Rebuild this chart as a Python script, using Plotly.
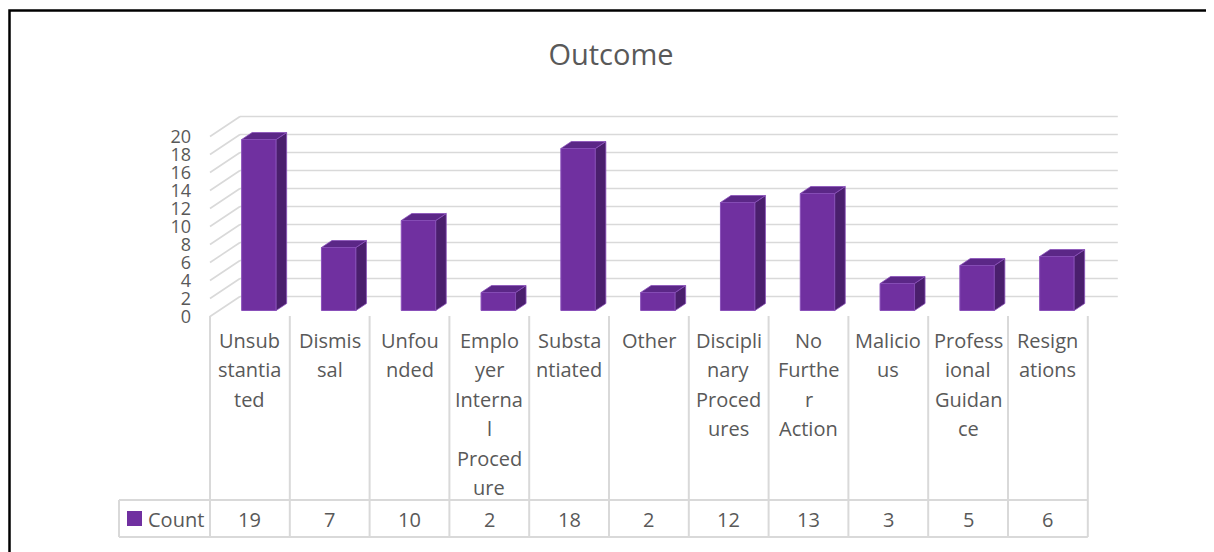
import plotly.graph_objects as go

# ---------------- data ----------------
categories = ["Unsubstantiated", "Dismissal", "Unfounded", "Employer Internal Procedure",
              "Substantiated", "Other", "Disciplinary Procedures", "No Further Action",
              "Malicious", "Professional Guidance", "Resignations"]
label_lines = [["Unsub", "stantia", "ted"], ["Dismis", "sal"], ["Unfou", "nded"],
               ["Emplo", "yer", "Interna", "l", "Proced", "ure"], ["Substa", "ntiated"],
               ["Other"], ["Discipli", "nary", "Proced", "ures"], ["No", "Furthe", "r", "Action"],
               ["Malicio", "us"], ["Profess", "ional", "Guidan", "ce"], ["Resign", "ations"]]
counts = [19, 7, 10, 2, 18, 2, 12, 13, 3, 5, 6]
series_name = "Count"
y_ticks = [0, 2, 4, 6, 8, 10, 12, 14, 16, 18, 20]
title_text = "Outcome"

# ---------------- layout constants (pixels, in the reference frame) ----------------
PAGE_OFF = 8                      # default page body margin
W, H = 1214 - PAGE_OFF, 552 - PAGE_OFF
X0_PX = 210.0      # front-left edge of category axis
CW = 79.8          # pixels per category
Y0_PX = 316.5      # pixel of value 0 on front plane
PPU = 9.0          # pixels per value unit
DEPTH_DX, DEPTH_DY = 30.0, 20.0   # perspective offset of back wall (px)
BAR_D0, BAR_DD = 0.30, 0.35        # bar depth position (fraction of depth)
BAR_W_PX = 34.5

TXT = "#595959"
GRID = "#d9d9d9"
FONT = "Open Sans"
FRONT = "#7030A0"
SIDE = "#4A1F6D"
TOP = "#5B2787"
EDGE = "#8A50BA"

def xd(px):
    return -0.5 + (px - X0_PX) / CW

def yd(py):
    return (Y0_PX - py) / PPU

def xp(px):
    return (px - PAGE_OFF) / W

def yp(py):
    return 1 - (py - PAGE_OFF) / H

DXU = DEPTH_DX / CW
DYU = DEPTH_DY / PPU
n = len(categories)

fig = go.Figure()

# front faces of bars
bx_off = BAR_D0 * DXU
by_off = BAR_D0 * DYU
bw = BAR_W_PX / CW
fig.add_trace(go.Bar(
    x=[i + bx_off for i in range(n)], y=counts, base=by_off, width=bw,
    marker=dict(color=FRONT, line=dict(color=EDGE, width=1)),
    name=series_name, showlegend=False, hoverinfo="skip"))

# side and top faces
ddx = BAR_DD * DXU
ddy = BAR_DD * DYU
sx, sy, tx, ty = [], [], [], []
for i, v in enumerate(counts):
    xl = i + bx_off - bw / 2
    xr = i + bx_off + bw / 2
    b = by_off
    sx += [xr, xr + ddx, xr + ddx, xr, xr, None]
    sy += [b, b + ddy, b + v + ddy, b + v, b, None]
    tx += [xl, xr, xr + ddx, xl + ddx, xl, None]
    ty += [b + v, b + v, b + v + ddy, b + v + ddy, b + v, None]
fig.add_trace(go.Scatter(x=sx, y=sy, fill="toself", fillcolor=SIDE, mode="lines",
                         line=dict(color=EDGE, width=0.8), showlegend=False, hoverinfo="skip"))
fig.add_trace(go.Scatter(x=tx, y=ty, fill="toself", fillcolor=TOP, mode="lines",
                         line=dict(color=EDGE, width=0.8), showlegend=False, hoverinfo="skip"))

# legend key in data table
fig.add_trace(go.Scatter(x=[xd(134.5)], y=[yd(518.5)], mode="markers",
                         marker=dict(symbol="square", size=15, color=FRONT),
                         showlegend=False, hoverinfo="skip"))

shapes = []
# wall gridlines (behind bars)
for v in y_ticks:
    shapes.append(dict(type="line", xref="x", yref="y", layer="below",
                       x0=-0.5 + DXU, x1=n - 0.5 + DXU, y0=v + DYU, y1=v + DYU,
                       line=dict(color=GRID, width=1.6)))
    shapes.append(dict(type="line", xref="x", yref="y", layer="below",
                       x0=-0.5, x1=-0.5 + DXU, y0=v, y1=v + DYU,
                       line=dict(color=GRID, width=1.6)))
# category separators and data table grid
for k in range(n + 1):
    shapes.append(dict(type="line", xref="x", yref="y", layer="below",
                       x0=k - 0.5, x1=k - 0.5, y0=yd(316), y1=yd(537),
                       line=dict(color=GRID, width=2)))
for py in (500, 537):
    shapes.append(dict(type="line", xref="x", yref="y", layer="below",
                       x0=xd(119), x1=n - 0.5, y0=yd(py), y1=yd(py),
                       line=dict(color=GRID, width=2)))
shapes.append(dict(type="line", xref="x", yref="y", layer="below",
                   x0=xd(119), x1=xd(119), y0=yd(500), y1=yd(537),
                   line=dict(color=GRID, width=2)))
# outer frame
shapes.append(dict(type="rect", xref="paper", yref="paper",
                   x0=xp(9.5), x1=xp(1211.5), y0=-0.05, y1=yp(10.5),
                   line=dict(color="black", width=2.5)))

annotations = []
for i, lines in enumerate(label_lines):
    for k, t in enumerate(lines):
        annotations.append(dict(x=i, y=yd(340 + 29.5 * k), xref="x", yref="y", text=t,
                                showarrow=False, xanchor="center", yanchor="middle",
                                font=dict(family=FONT, size=20, color=TXT)))
for i, v in enumerate(counts):
    annotations.append(dict(x=i, y=yd(519), xref="x", yref="y", text=str(v),
                            showarrow=False, xanchor="center", yanchor="middle",
                            font=dict(family=FONT, size=20, color=TXT)))
annotations.append(dict(x=xd(146), y=yd(519), xref="x", yref="y", text=series_name,
                        showarrow=False, xanchor="left", yanchor="middle",
                        font=dict(family=FONT, size=20, color=TXT)))

fig.update_layout(
    width=W, height=H, margin=dict(l=0, r=0, t=0, b=0),
    paper_bgcolor="white", plot_bgcolor="white",
    title=dict(text=title_text, x=xp(611), xanchor="center", y=yp(55), yanchor="middle",
               font=dict(family=FONT, size=29, color=TXT)),
    xaxis=dict(range=[xd(PAGE_OFF), xd(1214)], visible=False, fixedrange=True),
    yaxis=dict(range=[yd(552), yd(PAGE_OFF)], anchor="free", position=xp(191),
               tickvals=y_ticks, ticks="", showgrid=False, zeroline=False, showline=False,
               tickfont=dict(family=FONT, size=18, color=TXT), fixedrange=True),
    shapes=shapes, annotations=annotations, showlegend=False,
    font=dict(family=FONT, color=TXT),
)

fig.write_html("out.html")
